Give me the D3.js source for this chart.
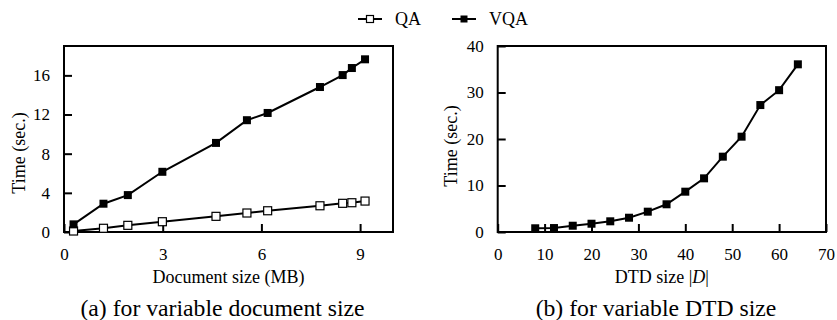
<!DOCTYPE html>
<html>
<head>
<meta charset="utf-8">
<script src="https://cdn.jsdelivr.net/npm/d3@7"></script>
<style>
  html, body { margin: 0; padding: 0; background: #fff; }
  svg { display: block; }
</style>
</head>
<body>
<svg id="chart" width="837" height="320" style="font-family:'Liberation Serif'"></svg>
<script>
// ---- Data ----
const docSizes = [0.29, 1.2, 1.94, 2.99, 4.62, 5.56, 6.19, 7.78, 8.47, 8.75, 9.15];
const qaDoc    = [0.10, 0.38, 0.68, 1.05, 1.60, 1.94, 2.17, 2.68, 2.93, 2.99, 3.16];
const vqaDoc   = [0.78, 2.89, 3.77, 6.15, 9.10, 11.42, 12.16, 14.81, 16.03, 16.75, 17.64];

const dtdSizes = [8, 12, 16, 20, 24, 28, 32, 36, 40, 44, 48, 52, 56, 60, 64];
const vqaDtd   = [0.8, 0.85, 1.35, 1.78, 2.3, 3.07, 4.37, 5.96, 8.67, 11.54, 16.2, 20.5, 27.3, 30.5, 36.06];

const xTicksA = [0, 3, 6, 9];
const yTicksA = [0, 4, 8, 12, 16];
const xTicksB = [0, 10, 20, 30, 40, 50, 60, 70];
const yTicksB = [0, 10, 20, 30, 40];

const seriesNames = ["QA", "VQA"];

const FONT = "'Liberation Serif', 'Times New Roman', serif";

// ---- Drawing ----
const svg = d3.select("#chart");

function panel(cfg) {
  const g = svg.append("g");
  const x = d3.scaleLinear().domain(cfg.xDomain).range([cfg.left, cfg.right]);
  const y = d3.scaleLinear().domain(cfg.yDomain).range([cfg.bottom, cfg.top]);

  // ticks (inward)
  const xa = g.append("g").attr("transform", `translate(0,${cfg.bottom})`)
    .call(d3.axisBottom(x).tickValues(cfg.xTicks).tickSize(-8).tickPadding(15.5).tickFormat(d3.format("d")));
  const ya = g.append("g").attr("transform", `translate(${cfg.left},0)`)
    .call(d3.axisLeft(y).tickValues(cfg.yTicks).tickSize(-8).tickPadding(14).tickFormat(d3.format("d")));
  [xa, ya].forEach(a => {
    a.attr("font-family", null).attr("font-size", null);
    a.select(".domain").remove();
    a.selectAll(".tick line").attr("stroke", "#000").attr("stroke-width", 2);
    a.selectAll(".tick text").attr("fill", "#000")
      .style("font-family", FONT).style("font-size", "17px");
  });

  // frame
  g.append("rect")
    .attr("x", cfg.left).attr("y", cfg.top)
    .attr("width", cfg.right - cfg.left).attr("height", cfg.bottom - cfg.top)
    .attr("fill", "none").attr("stroke", "#000").attr("stroke-width", 2);

  const line = d3.line().x(d => x(d[0])).y(d => y(d[1]));
  cfg.series.forEach(s => {
    const pts = cfg.xs.map((v, i) => [v, s.values[i]]);
    g.append("path").datum(pts).attr("d", line)
      .attr("fill", "none").attr("stroke", "#000").attr("stroke-width", 2);
    g.selectAll(null).data(pts).enter().append("rect")
      .attr("x", d => x(d[0]) - 4).attr("y", d => y(d[1]) - 4)
      .attr("width", 8).attr("height", 8)
      .attr("fill", s.filled ? "#000" : "#fff")
      .attr("stroke", s.filled ? "none" : "#000")
      .attr("stroke-width", 1.2);
  });

  // axis titles
  g.append("text")
    .attr("x", (cfg.left + cfg.right) / 2).attr("y", 282.5)
    .attr("text-anchor", "middle")
    .style("font-family", FONT).style("font-size", "18px")
    .html(cfg.xTitle);
  g.append("text")
    .attr("transform", `translate(${cfg.yTitleX},${cfg.yTitleY}) rotate(-90)`)
    .attr("text-anchor", "middle")
    .style("font-family", FONT).style("font-size", "18px")
    .text("Time (sec.)");
  g.append("text")
    .attr("x", cfg.capX).attr("y", 315.5)
    .attr("text-anchor", "middle")
    .style("font-family", FONT).style("font-size", "23.7px")
    .text(cfg.caption);
}

panel({
  left: 64, right: 393, top: 46, bottom: 232,
  xDomain: [0, 10], yDomain: [0, 19],
  xTicks: xTicksA, yTicks: yTicksA,
  xs: docSizes,
  series: [{ values: qaDoc, filled: false }, { values: vqaDoc, filled: true }],
  xTitle: "Document size (MB)",
  yTitleX: 25, yTitleY: 153,
  capX: 222.5, caption: "(a) for variable document size"
});

panel({
  left: 497.7, right: 826, top: 46, bottom: 232,
  xDomain: [0, 70], yDomain: [0, 40],
  xTicks: xTicksB, yTicks: yTicksB,
  xs: dtdSizes,
  series: [{ values: vqaDtd, filled: true }],
  xTitle: "DTD size |<tspan font-style=\"italic\">D</tspan>|",
  yTitleX: 457, yTitleY: 146,
  capX: 656, caption: "(b) for variable DTD size"
});

// legend
const legend = svg.append("g");
const legendItems = [
  { name: seriesNames[0], x1: 358, filled: false },
  { name: seriesNames[1], x1: 452, filled: true }
];
legendItems.forEach(it => {
  legend.append("line").attr("x1", it.x1).attr("x2", it.x1 + 24)
    .attr("y1", 19).attr("y2", 19).attr("stroke", "#000").attr("stroke-width", 2);
  legend.append("rect").attr("x", it.x1 + 12 - 3.5).attr("y", 19 - 3.5)
    .attr("width", 7).attr("height", 7)
    .attr("fill", it.filled ? "#000" : "#fff")
    .attr("stroke", it.filled ? "none" : "#000").attr("stroke-width", 1.2);
  legend.append("text").attr("x", it.x1 + 37).attr("y", 24.5)
    .style("font-family", FONT).style("font-size", "18px").text(it.name);
});
</script>
</body>
</html>
